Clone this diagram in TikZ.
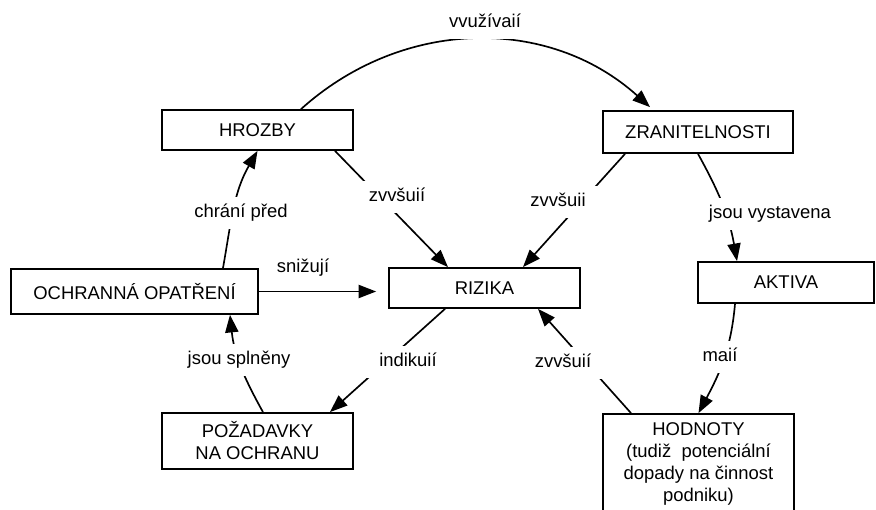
\documentclass[tikz,border=0pt]{standalone}
\usepackage{fontspec}
\setmainfont{Liberation Sans}
\usetikzlibrary{arrows.meta}

\begin{document}
\begin{tikzpicture}[x=0.02cm,y=-0.02cm,
    box/.style={draw, line width=1pt, rectangle, inner sep=0pt, minimum width=3.82cm, minimum height=0.8cm, align=center, font=\fontsize{10.5}{12.5}\selectfont},
    lbl/.style={fill=white, inner xsep=8pt, inner ysep=4.5pt, text height=7.5pt, text depth=2.2pt, font=\fontsize{10.5}{12.5}\selectfont},
    link/.style={line width=0.95pt, -{Triangle[length=10pt,width=7.5pt]}}]
    \useasboundingbox (0,0) rectangle (876,510);

    % 方框
    \node[box] (hrozby) at (257.5,130) {HROZBY};
    \node[box, minimum width=3.8cm, minimum height=0.84cm] (zranit) at (698,132) {ZRANITELNOSTI};
    \node[box, minimum width=4.94cm, minimum height=0.9cm] (ochrana) at (134.5,291.5) {OCHRANNÁ OPATŘENÍ};
    \node[box] (rizika) at (484.5,288) {RIZIKA};
    \node[box, minimum width=3.52cm, minimum height=0.82cm] (aktiva) at (786,282.5) {AKTIVA};
    \node[box, minimum height=1.12cm] (pozadavky) at (257.5,441) {POŽADAVKY\\NA OCHRANU};
    \node[box, minimum height=2cm] (hodnoty) at (698.5,464) {HODNOTY\\(tudiž\ \ potenciální\\dopady na činnost\\podniku)};

    % 连线
    \draw[link] ([xshift=0.87cm]hrozby.north) to[out=42,in=138] ([xshift=-0.96cm,yshift=0.06cm]zranit.north);
    \draw[link] ([xshift=1.55cm]hrozby.south) -- ([xshift=-0.73cm]rizika.north);
    \draw[link] ([xshift=-1.46cm]zranit.south) -- ([xshift=0.77cm]rizika.north);
    \draw[link] (zranit.south) to[out=-61,in=100] ([xshift=-0.98cm]aktiva.north);
    \draw[link, shorten >=0.24cm] (ochrana.east) -- (ochrana.east -| rizika.west);
    \draw[link] ([xshift=1.77cm]ochrana.north) to[out=80,in=-120] (hrozby.south);
    \draw[link] ([xshift=0.11cm]pozadavky.north) to[out=119,in=-84] ([xshift=1.91cm]ochrana.south);
    \draw[link] ([xshift=-0.79cm]rizika.south) -- ([xshift=1.45cm]pozadavky.north);
    \draw[link] ([xshift=-1.35cm]hodnoty.north) -- ([xshift=1.07cm]rizika.south);
    \draw[link] ([xshift=-1.02cm]aktiva.south) to[out=-95,in=62] (hodnoty.north);

    % 连线上的文字
    \node[lbl] (vyuz) at (485,23) {vvužívaií};
    \node[lbl] (zvys1) at (397,197) {zvvšuií};
    \node[lbl] (zvys2) at (558,202) {zvvšuii};
    \node[lbl] (vyst) at (770,214) {jsou vystavena};
    \node[lbl] (sniz) at (303,268) {snižují};
    \node[lbl] (chrani) at (241,213) {chrání před};
    \node[lbl] (splneny) at (239,360) {jsou splněny};
    \node[lbl] (indik) at (408,362) {indikuií};
    \node[lbl] (zvys3) at (563,363) {zvvšuií};
    \node[lbl] (maji) at (720,357) {maií};

\end{tikzpicture}
\end{document}
